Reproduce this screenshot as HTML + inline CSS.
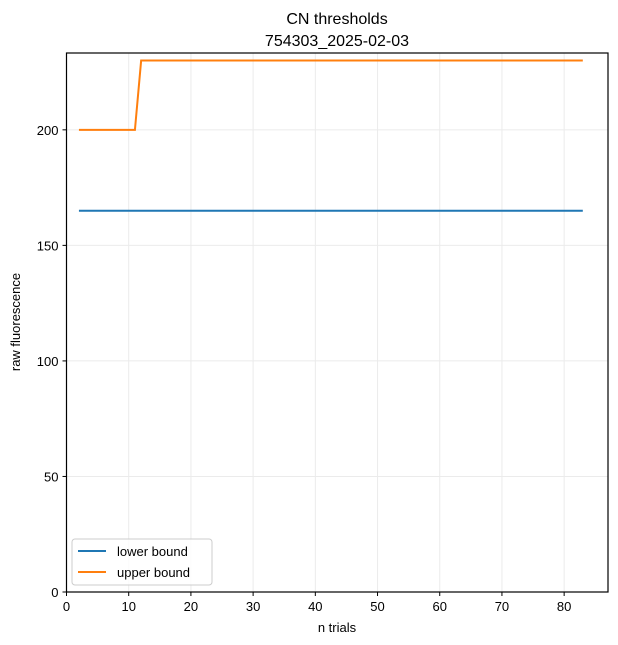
<!DOCTYPE html>
<html><head><meta charset="utf-8"><style>
body{margin:0;background:#fff;}
svg{display:block;font-family:"Liberation Sans","DejaVu Sans",sans-serif;}
</style></head><body>
<svg id="chart" width="618" height="645">
<text x="337" y="24" text-anchor="middle" font-size="16">CN thresholds</text>
<text x="337" y="46" text-anchor="middle" font-size="16">754303_2025-02-03</text>
<g id="grid"></g><g id="series"></g><g id="axes"></g>
<text x="337" y="632" text-anchor="middle" font-size="13">n trials</text>
<text transform="translate(20,322) rotate(-90)" text-anchor="middle" font-size="13">raw fluorescence</text>
<g>
<rect x="72" y="539" width="140" height="46" rx="3" fill="#fff" fill-opacity="0.8" stroke="#ccc"/>
<line x1="78" y1="551" x2="106" y2="551" stroke="#1f77b4" stroke-width="2"/>
<text x="117" y="556" font-size="13">lower bound</text>
<line x1="78" y1="572" x2="106" y2="572" stroke="#ff7f0e" stroke-width="2"/>
<text x="117" y="577" font-size="13">upper bound</text>
</g>
</svg>
<script>
const xTicks=[0,10,20,30,40,50,60,70,80];
const yTicks=[0,50,100,150,200];
const lowerX=[2,83];
const lowerY=[165,165];
const upperX=[2,11,12,83];
const upperY=[200,200,230,230];
const X0=66.5,X1=608,Y0=592,Y1=53,xmin=0,xmax=87.05,ymin=0,ymax=233.25;
const sx=v=>X0+(v-xmin)/(xmax-xmin)*(X1-X0);
const sy=v=>Y0-(v-ymin)/(ymax-ymin)*(Y0-Y1);
const NS="http://www.w3.org/2000/svg";
function mk(t,a,p){const e=document.createElementNS(NS,t);for(const k in a)e.setAttribute(k,a[k]);p.appendChild(e);return e;}
const grid=document.getElementById('grid'),axes=document.getElementById('axes'),ser=document.getElementById('series');
xTicks.forEach(t=>{const x=sx(t);
 const g=mk('line',{x1:x,x2:x,y1:Y1,y2:Y0,stroke:'#ebebeb','stroke-width':1},grid);
 
 mk('line',{x1:x,x2:x,y1:Y0,y2:Y0+4,stroke:'#000'},axes);
 const l=mk('text',{x:x,y:Y0+19,'text-anchor':'middle','font-size':13},axes);l.textContent=t;
 });
yTicks.forEach(t=>{const y=sy(t);
 const g=mk('line',{x1:X0,x2:X1,y1:y,y2:y,stroke:'#ebebeb','stroke-width':1},grid);
 
 mk('line',{x1:X0-4,x2:X0,y1:y,y2:y,stroke:'#000'},axes);
 const l=mk('text',{x:X0-8,y:y+5,'text-anchor':'end','font-size':13},axes);l.textContent=t;
 });
const fr=mk('rect',{x:X0,y:Y1,width:X1-X0,height:Y0-Y1,fill:'none',stroke:'#000','stroke-width':1.2},axes);

function line(xs,ys,c,n){const p=mk('polyline',{points:xs.map((x,i)=>sx(x)+','+sy(ys[i])).join(' '),fill:'none',stroke:c,'stroke-width':2},ser);
 }
line(lowerX,lowerY,'#1f77b4','lower-bound-line');
line(upperX,upperY,'#ff7f0e','upper-bound-line');
</script>
</body></html>
